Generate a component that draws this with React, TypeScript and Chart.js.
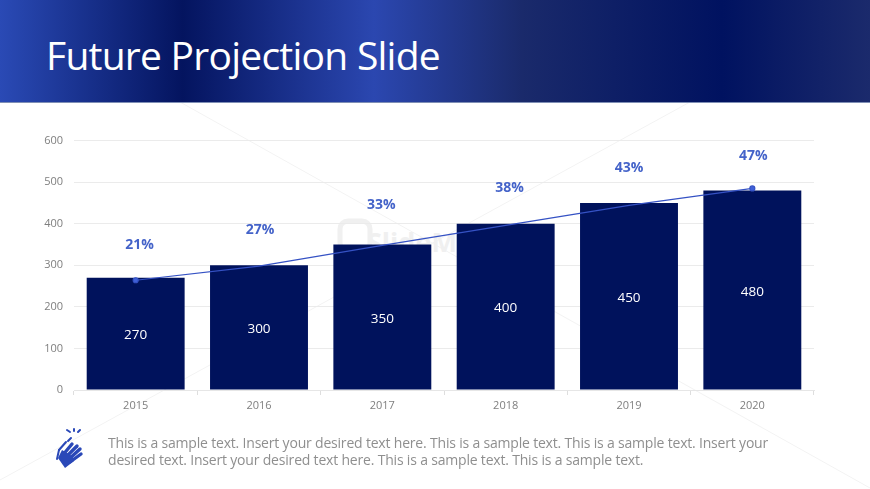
import React, { useEffect, useRef } from "react";
import { Chart, registerables } from "chart.js";

Chart.register(...registerables);

const years = ["2015", "2016", "2017", "2018", "2019", "2020"];
const revenue = [270, 300, 350, 400, 450, 480];
const trend = [264, 298, 348, 396, 444, 485];
const percentLabels = ["21%", "27%", "33%", "38%", "43%", "47%"];
const percentHeights = [348, 384, 444, 487, 533, 564];
const yTicks = [0, 100, 200, 300, 400, 500, 600];

const FONT = '"Open Sans", "Noto Sans", sans-serif';

const labelPlugin = {
  id: "sliceLabels",
  afterDatasetsDraw(chart: any) {
    const { ctx, scales } = chart;
    const nudge = [4, 1, -1, 4, 0, 1];
    ctx.save();
    ctx.textAlign = "center";
    ctx.textBaseline = "middle";
    years.forEach((_, i) => {
      const x = scales.x.getPixelForValue(i);
      ctx.font = `13.5px ${FONT}`;
      ctx.fillStyle = "#ffffff";
      ctx.fillText(String(revenue[i]), x, (scales.y.getPixelForValue(revenue[i]) + scales.y.getPixelForValue(0)) / 2 + 1.5);
      ctx.font = `bold 14px ${FONT}`;
      ctx.fillStyle = "#4463c9";
      ctx.fillText(percentLabels[i], x + nudge[i], scales.y.getPixelForValue(percentHeights[i]));
    });
    ctx.restore();
  },
};

export default function App() {
  const ref = useRef<HTMLCanvasElement>(null);
  useEffect(() => {
    document.body.style.margin = "0";
    document.body.style.background = "#fff";
    const chart = new Chart(ref.current!, {
      type: "bar",
      plugins: [labelPlugin],
      data: {
        labels: years,
        datasets: [
          {
            type: "line",
            label: "Trend",
            data: trend,
            borderColor: "#3552c4",
            backgroundColor: "#3f60d8",
            borderWidth: 1.2,
            pointRadius: (c: any) => (c.dataIndex === 0 || c.dataIndex === years.length - 1 ? 2.5 : 0),
            tension: 0,
            order: 0,
          },
          {
            type: "bar",
            label: "Value",
            data: revenue,
            backgroundColor: "#00125c",
            categoryPercentage: 1,
            barPercentage: 0.794,
            order: 1,
          },
        ],
      } as any,
      options: {
        animation: false,
        responsive: false,
        devicePixelRatio: 1,
        layout: { padding: { top: 140.6, right: 56, bottom: 0, left: 0 } },
        plugins: { legend: { display: false }, tooltip: { enabled: false } },
        scales: {
          x: {
            grid: { drawOnChartArea: false, tickLength: 5, color: "#dedede" },
            border: { color: "#e6e6e6" },
            ticks: { color: "#7f7f7f", font: { family: FONT, size: 11 }, padding: 4, maxRotation: 0 },
            afterFit(s: any) { s.height = 99; },
          },
          y: {
            min: 0,
            max: 600,
            afterBuildTicks(s: any) { s.ticks = yTicks.map((value) => ({ value })); },
            grid: { color: "#ebebeb", tickLength: 0 },
            border: { display: false },
            ticks: { color: "#7f7f7f", font: { family: FONT, size: 11 }, padding: 11 },
            afterFit(s: any) { s.width = 74; },
          },
        },
      },
    } as any);
    return () => chart.destroy();
  }, []);

  return (
    <div style={{ position: "relative", width: 870, height: 489, overflow: "hidden", background: "#fff" }}>
      <svg width={870} height={489} style={{ position: "absolute", left: 0, top: 0 }}>
        <g stroke="#f3f3f3" strokeWidth={1}>
          <line x1={180} y1={102} x2={870} y2={488} />
          <line x1={690} y1={102} x2={0} y2={480} />
        </g>
        <text x={367} y={252} fontFamily={FONT} fontWeight={700} fontSize={27} fill="#f0f0f0">SlideModel</text>
        <rect x={340} y={221} width={30} height={30} rx={8} fill="none" stroke="#f0f0f0" strokeWidth={5} />
      </svg>
      <div
        style={{
          position: "absolute",
          left: 0,
          top: 0,
          width: 870,
          height: 103,
          background:
            "linear-gradient(90deg,#2a4ab5 0%,#04145f 21%,#2b47b0 43%,#1a2a6b 60%,#001260 83%,#1b2a6c 100%)",
          borderBottom: "1px solid #7f8fb5",
          boxSizing: "border-box",
        }}
      />
      <div
        style={{
          position: "absolute",
          left: 46,
          top: 29,
          color: "#fff",
          fontFamily: FONT,
          fontSize: 39,
          letterSpacing: "-0.75px",
          lineHeight: "52px",
          whiteSpace: "nowrap",
        }}
      >
        Future Projection Slide
      </div>
      <canvas ref={ref} width={870} height={489} style={{ position: "absolute", left: 0, top: 0, display: "block" }} />
      <svg width={40} height={44} viewBox="0 0 40 44" style={{ position: "absolute", left: 50, top: 428 }}>
        <g stroke="#2a48b8" strokeLinecap="round" fill="none">
          <g strokeWidth={3.4}>
            <line x1={12} y1={28} x2={22} y2={16} />
            <line x1={15} y1={30} x2={27} y2={18} />
            <line x1={18} y1={32} x2={30} y2={21} />
            <line x1={20} y1={34} x2={31} y2={26} />
          </g>
          <g strokeWidth={2}>
            <line x1={7} y1={31} x2={9} y2={22} />
            <line x1={9} y1={22} x2={16} y2={14} />
            <line x1={18} y1={13} x2={21} y2={10} />
            <line x1={20} y1={4} x2={17} y2={2} />
            <line x1={24} y1={3} x2={24} y2={1} />
            <line x1={28} y1={4} x2={30} y2={2} />
          </g>
        </g>
        <path d="M8 30 L12 22 L22 28 L24 33 L15 40 Z" fill="#2a48b8" />
      </svg>
      <div
        style={{
          position: "absolute",
          left: 108,
          top: 434,
          width: 672,
          color: "#8f8f8f",
          fontFamily: FONT,
          fontSize: 14,
          letterSpacing: "-0.19px",
          lineHeight: "17px",
        }}
      >
        This is a sample text. Insert your desired text here. This is a sample text. This is a sample text. Insert your desired text. Insert your desired text here. This is a sample text. This is a sample text.
      </div>
    </div>
  );
}
